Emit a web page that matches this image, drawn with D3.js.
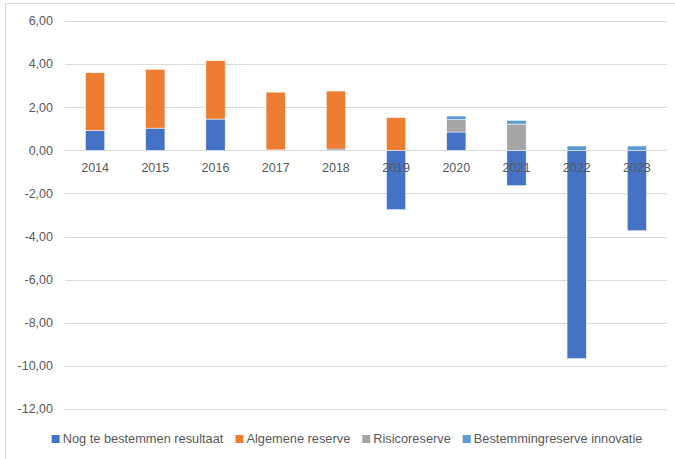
<!DOCTYPE html>
<html>
<head>
<meta charset="utf-8">
<script src="https://cdnjs.cloudflare.com/ajax/libs/d3/7.8.5/d3.min.js"></script>
<style>
  body { margin: 0; background: #fff; }
  text { font-family: "Liberation Sans", Arial, sans-serif; fill: #595959; }
</style>
</head>
<body>
<svg id="chart" width="675" height="459"></svg>
<script>
// data
var years = ['2014', '2015', '2016', '2017', '2018', '2019', '2020', '2021', '2022', '2023'];
var nogTeBestemmen = [0.93, 1.03, 1.45, 0.02, 0.06, -2.75, 0.85, -1.64, -9.66, -3.73];
var algemeneReserve = [2.67, 2.73, 2.71, 2.68, 2.69, 1.52, 0, 0, 0, 0];
var risicoReserve = [0, 0, 0, 0, 0, 0, 0.57, 1.22, 0, 0];
var innovatieReserve = [0, 0, 0, 0, 0, 0, 0.17, 0.17, 0.2, 0.2];
var seriesNames = ['Nog te bestemmen resultaat', 'Algemene reserve', 'Risicoreserve', 'Bestemmingreserve innovatie'];
var yTicks = [6, 4, 2, 0, -2, -4, -6, -8, -10, -12];

var colors = ['#4472C4', '#ED7D31', '#A5A5A5', '#5B9BD5'];
var allSeries = [nogTeBestemmen, algemeneReserve, risicoReserve, innovatieReserve];

var rows = years.map(function(y, i) {
  var r = { year: y };
  seriesNames.forEach(function(n, k) { r[n] = allSeries[k][i]; });
  return r;
});

var svg = d3.select('#chart');

// outer chart border (runs off the right and bottom edge in the reference)
svg.append('rect')
  .attr('x', 5.5).attr('y', 3.5).attr('width', 700).attr('height', 500)
  .attr('fill', 'none').attr('stroke', '#d9d9d9');

var plotLeft = 65, plotRight = 667, plotTop = 21, plotBottom = 409;

var x = d3.scaleBand().domain(years).range([plotLeft, plotRight]).paddingInner(0.68).paddingOuter(0.34);
var y = d3.scaleLinear().domain([-12, 6]).range([plotBottom, plotTop]);

// gridlines
svg.append('g').selectAll('line').data(yTicks).enter().append('line')
  .attr('x1', plotLeft).attr('x2', plotRight)
  .attr('y1', function(d) { return Math.round(y(d)) + 0.5; })
  .attr('y2', function(d) { return Math.round(y(d)) + 0.5; })
  .attr('stroke', '#d9d9d9').attr('stroke-width', 1);

// y labels
var fmt = function(d) { return d3.format('.2f')(d).replace('.', ',').replace('−', '-'); };
svg.append('g').selectAll('text').data(yTicks).enter().append('text')
  .attr('x', 53).attr('y', function(d) { return y(d); })
  .attr('dy', '0.35em').attr('text-anchor', 'end')
  .style('font-size', '12.5px')
  .text(fmt);

// stacked bars
var stack = d3.stack().keys(seriesNames).offset(d3.stackOffsetDiverging);
var stacked = stack(rows);

svg.append('g').selectAll('g').data(stacked).enter().append('g')
  .attr('fill', function(d, i) { return colors[i]; })
  .selectAll('rect').data(function(d) { return d; }).enter().append('rect')
    .attr('x', function(d) { return x(d.data.year); })
    .attr('width', x.bandwidth())
    .attr('y', function(d) { return y(Math.max(d[0], d[1])); })
    .attr('height', function(d) { return Math.abs(y(d[0]) - y(d[1])); })
    .attr('stroke', '#fff').attr('stroke-width', 0.5);

// category labels drawn over the bars
svg.append('g').selectAll('text').data(years).enter().append('text')
  .attr('x', function(d) { return x(d) + x.bandwidth() / 2; })
  .attr('y', 168).attr('dy', '0.35em').attr('text-anchor', 'middle')
  .style('font-size', '12.5px')
  .text(function(d) { return d; });

// legend
var legend = svg.append('g');
var lx = 0;
seriesNames.forEach(function(n, i) {
  var g = legend.append('g').attr('transform', 'translate(' + lx + ',0)');
  g.append('rect').attr('x', 0).attr('y', -4).attr('width', 8).attr('height', 8).attr('fill', colors[i]);
  var t = g.append('text').attr('x', 11).attr('y', 0).attr('dy', '0.35em')
    .style('font-size', '12.8px').text(n);
  lx += 11 + t.node().getComputedTextLength() + 12;
});
var legW = lx - 12;
legend.attr('transform', 'translate(' + (347 - legW / 2) + ',439)');
</script>
</body>
</html>
